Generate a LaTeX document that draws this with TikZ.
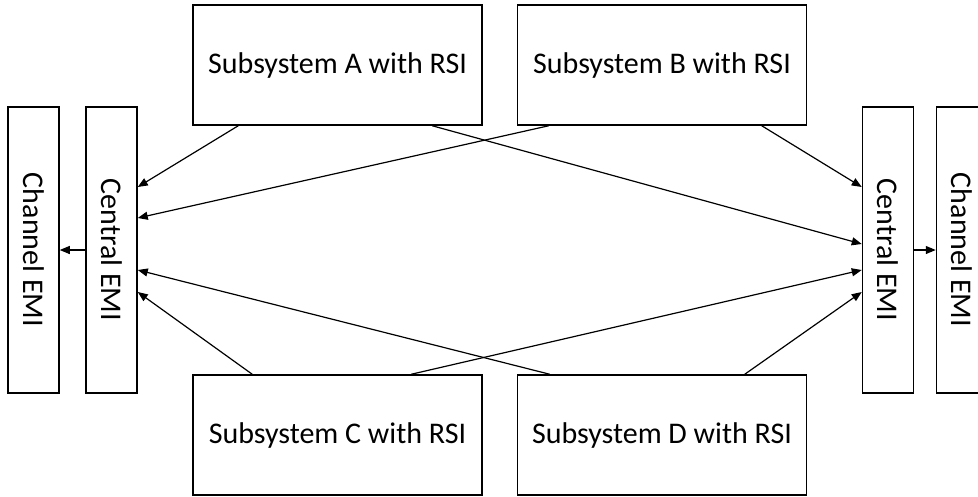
\documentclass[tikz,border=0pt]{standalone}
\usepackage{fontspec}
\setmainfont{Carlito}
\usetikzlibrary{arrows.meta}
\begin{document}
\begin{tikzpicture}[x=1pt,y=-1pt,
  sub/.style={draw,line width=1.5pt,minimum width=289pt,minimum height=120pt,
    inner sep=0pt,font=\fontsize{30}{36}\selectfont},
  emi/.style={draw,line width=1.5pt,minimum width=51pt,minimum height=286pt,
    inner sep=0pt,font=\fontsize{30}{36}\selectfont},
  link/.style={line width=1.2pt,-{Triangle[length=10pt,width=8pt]}}]
\useasboundingbox (0,0) rectangle (978,496);
\clip (0,0) rectangle (978,496);

% subsystems
\node[sub] (A) at (337.5,65) {Subsystem A with RSI};
\node[sub] (B) at (662,65) {Subsystem B with RSI};
\node[sub] (C) at (337.5,435) {Subsystem C with RSI};
\node[sub] (D) at (662,435) {Subsystem D with RSI};

% EMI columns
\node[emi] (chL) at (33.5,250) {\rotatebox{-90}{Channel EMI}};
\node[emi] (ceL) at (111.5,250) {\rotatebox{-90}{Central EMI}};
\node[emi] (ceR) at (888,250) {\rotatebox{-90}{Central EMI}};
\node[emi] (chR) at (962,250) {\rotatebox{-90}{Channel EMI}};

% links to the left central EMI
\draw[link] ([xshift=46pt]A.south west) -- ([yshift=63pt]ceL.east);
\draw[link] ([xshift=32pt]B.south west) -- ([yshift=32pt]ceL.east);
\draw[link] ([xshift=33pt]D.north west) -- ([yshift=-20pt]ceL.east);
\draw[link] ([xshift=60pt]C.north west) -- ([yshift=-42pt]ceL.east);

% links to the right central EMI
\draw[link] ([xshift=245pt]B.south west) -- ([yshift=63pt]ceR.west);
\draw[link] ([xshift=240pt]A.south west) -- ([yshift=6pt]ceR.west);
\draw[link] ([xshift=219pt]C.north west) -- ([yshift=-20pt]ceR.west);
\draw[link] ([xshift=228pt]D.north west) -- ([yshift=-42pt]ceR.west);

% central to channel
\draw[link] (ceL.west) -- (chL.east);
\draw[link] (ceR.east) -- (chR.west);
\end{tikzpicture}
\end{document}
